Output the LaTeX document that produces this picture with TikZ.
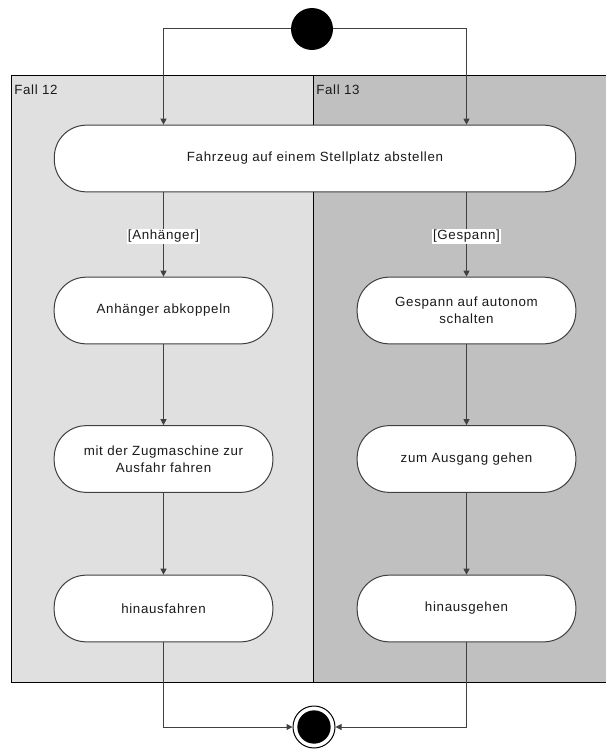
\documentclass[tikz,border=0pt]{standalone}
\usepackage{fontspec}
\setmainfont[LetterSpace=5]{Liberation Sans}
\usetikzlibrary{arrows.meta}
\definecolor{laneA}{HTML}{E0E0E0}
\definecolor{laneB}{HTML}{C0C0C0}
\definecolor{edge}{HTML}{404040}
\definecolor{ink}{HTML}{1A1A1A}
\begin{document}
\begin{tikzpicture}[x=0.75pt,y=-0.75pt,
  font=\fontsize{10}{12.5}\selectfont, text=ink,
  action/.style={draw=edge, fill=white, line width=0.75pt, rounded corners=24pt,
    minimum width=164pt, minimum height=50pt, align=center, inner sep=0pt},
  flow/.style={draw=edge, line width=0.75pt, -{Triangle[length=4.5pt,width=4.5pt]}},
  guard/.style={fill=white, inner sep=1pt},
  lanelabel/.style={anchor=west, inner sep=0pt}]
\useasboundingbox (0,0) rectangle (606,749);
% swimlanes
\fill[laneA] (11,76) rectangle (313,682);
\fill[laneB] (313,76) rectangle (606,682);
\draw[black, line width=0.75pt] (606,76) -- (11,76) -- (11,682) -- (606,682);
\draw[black, line width=0.75pt] (313,76) -- (313,682);
\node[lanelabel] (l12) at (14,90) {Fall 12};
\node[lanelabel] (l13) at (316,90) {Fall 13};
% activities
\node[fill=black, circle, minimum size=31.5pt, inner sep=0pt] (start) at (312,29) {};
\node[action, minimum width=391pt] (act0) at (315,158.5) {Fahrzeug auf einem Stellplatz abstellen};
\node[action] (a1) at (163.5,310.5) {Anhänger abkoppeln};
\node[action] (a2) at (163.5,459) {mit der Zugmaschine zur\\Ausfahr fahren};
\node[action] (a3) at (163.5,608.5) {hinausfahren};
\node[action] (b1) at (466.5,310.5) {Gespann auf autonom\\schalten};
\node[action] (b2) at (466.5,459) {zum Ausgang gehen};
\node[action] (b3) at (466.5,608.5) {hinausgehen};
\node[draw=black, fill=white, circle, line width=0.75pt, minimum size=31.5pt, inner sep=0pt] (end) at (314,727) {};
\node[fill=black, circle, minimum size=25pt, inner sep=0pt] (endin) at (end) {};
% connectors
\draw[flow] (start) -| (a1.north |- act0.north);
\draw[flow] (start) -| (b1.north |- act0.north);
\draw[flow] (a1.north |- act0.south) -- node[guard, pos=0.52] (g1) {[Anhänger]} (a1.north);
\draw[flow] (b1.north |- act0.south) -- node[guard, pos=0.52] (g2) {[Gespann]} (b1.north);
\draw[flow] (a1) -- (a2);
\draw[flow] (a2) -- (a3);
\draw[flow] (b1) -- (b2);
\draw[flow] (b2) -- (b3);
\draw[flow] (a3.south) |- (end.west);
\draw[flow] (b3.south) |- (end.east);
\end{tikzpicture}
\end{document}
